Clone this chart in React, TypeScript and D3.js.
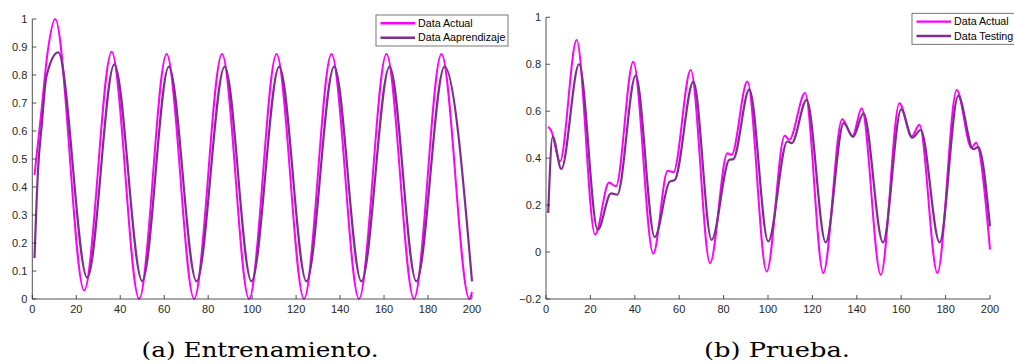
import React from "react";
import * as d3 from "d3";

// ---- Data ----
const trainActualX = [1, 4, 7.1, 10.4, 23.6, 36.1, 48.6, 61.1, 73.6, 86.3, 98.6, 111.1, 123.6, 136.1, 148.6, 161.1, 173.6, 186.1, 198.8, 200];
const trainActualY = [0.443, 0.66, 0.889, 1.0, 0.03, 0.883, 0.0, 0.875, 0.0, 0.875, 0.0, 0.875, 0.0, 0.875, 0.0, 0.875, 0.0, 0.875, 0.0, 0.025];

const trainModelX = [1, 2.6, 4.4, 6.4, 11.8, 25, 37.3, 50, 62.1, 74.7, 87.5, 99.7, 112.3, 124.7, 137.3, 149.7, 162.5, 174.7, 187.5, 200];
const trainModelY = [0.146, 0.46, 0.63, 0.794, 0.881, 0.076, 0.838, 0.064, 0.83, 0.063, 0.83, 0.063, 0.83, 0.063, 0.83, 0.063, 0.83, 0.063, 0.83, 0.063];

const testActualX = [1, 2.5, 6.3, 13.8, 22.1, 28.4, 31.5, 39.3, 48.3, 54.8, 57.4, 65.2, 73.9, 81.7, 83.6, 90.7, 99.4, 107.5, 109.6, 116.7, 124.9, 133.4, 138.1, 142.2, 150.8, 159.2, 164.7, 168.2, 176.3, 185, 191.7, 193.7, 200];
const testActualY = [0.534, 0.513, 0.386, 0.903, 0.074, 0.296, 0.28, 0.811, -0.007, 0.346, 0.34, 0.776, -0.047, 0.421, 0.414, 0.726, -0.083, 0.495, 0.478, 0.677, -0.089, 0.566, 0.495, 0.613, -0.097, 0.634, 0.492, 0.542, -0.089, 0.69, 0.443, 0.466, 0.01];

const testModelX = [1, 3, 6.9, 14.9, 23.3, 29.3, 32.1, 40.4, 49, 55.7, 58, 66.4, 74.6, 82.6, 84.4, 91.6, 100.1, 108.7, 110.7, 117.4, 126, 134.1, 138.3, 143, 151.8, 160, 165, 168.8, 177.3, 185.7, 192.5, 194.7, 200];
const testModelY = [0.166, 0.492, 0.354, 0.8, 0.095, 0.25, 0.244, 0.752, 0.064, 0.3, 0.307, 0.726, 0.052, 0.393, 0.396, 0.693, 0.045, 0.471, 0.464, 0.648, 0.041, 0.549, 0.49, 0.591, 0.041, 0.608, 0.487, 0.52, 0.041, 0.665, 0.438, 0.447, 0.109];

const xTicks = [0, 20, 40, 60, 80, 100, 120, 140, 160, 180, 200];
const leftYTicks = [0, 0.1, 0.2, 0.3, 0.4, 0.5, 0.6, 0.7, 0.8, 0.9, 1];
const rightYTicks = [-0.2, 0, 0.2, 0.4, 0.6, 0.8, 1];

const leftLegend = ["Data Actual", "Data Aaprendizaje"];
const rightLegend = ["Data Actual", "Data Testing"];
const captions = ["(a) Entrenamiento.", "(b) Prueba."];

const MAGENTA = "#ff00ff";
const PURPLE = "#7e2f8e";
const AXIS = "#262626";

type PanelProps = {
  x0: number; x1: number; yTop: number; yBot: number;
  yDomain: [number, number]; yTicks: number[];
  a: [number[], number[]]; m: [number[], number[]];
  fmt: (v: number) => string;
};

function Panel({ x0, x1, yTop, yBot, yDomain, yTicks, a, m, fmt }: PanelProps) {
  const xs = d3.scaleLinear().domain([0, 200]).range([x0, x1]);
  const ys = d3.scaleLinear().domain(yDomain).range([yBot, yTop]);
  const line = d3.line<[number, number]>()
    .x(d => xs(d[0]))
    .y(d => ys(d[1]))
    .curve(d3.curveMonotoneX);
  const pa = a[0].map((x, i) => [x, a[1][i]] as [number, number]);
  const pm = m[0].map((x, i) => [x, m[1][i]] as [number, number]);
  const tl = 4;
  return (
    <g>
      <path d={line(pa) || ""} fill="none" stroke={MAGENTA} strokeWidth={2} strokeLinejoin="round" />
      <path d={line(pm) || ""} fill="none" stroke={PURPLE} strokeWidth={2.2} strokeLinejoin="round" />
      <line x1={x0} x2={x0} y1={yTop} y2={yBot} stroke={AXIS} strokeWidth={0.8} />
      <line x1={x0} x2={x1} y1={yBot} y2={yBot} stroke={AXIS} strokeWidth={0.8} />
      {xTicks.map(t => (
        <g key={"x" + t}>
          <line x1={xs(t)} x2={xs(t)} y1={yBot} y2={yBot - tl} stroke={AXIS} strokeWidth={0.8} />
          <text x={xs(t)} y={yBot + 14} textAnchor="middle" fontSize={11} fill={AXIS}
            fontFamily="'Liberation Sans', Arial, sans-serif">{t}</text>
        </g>
      ))}
      {yTicks.map(t => (
        <g key={"y" + t}>
          <line x1={x0} x2={x0 + tl} y1={ys(t)} y2={ys(t)} stroke={AXIS} strokeWidth={0.8} />
          <text x={x0 - 5} y={ys(t) + 4} textAnchor="end" fontSize={11} fill={AXIS}
            fontFamily="'Liberation Sans', Arial, sans-serif">{fmt(t)}</text>
        </g>
      ))}
    </g>
  );
}

function Legend({ x, y, w, labels }: { x: number; y: number; w: number; labels: string[] }) {
  const colors = [MAGENTA, PURPLE];
  return (
    <g>
      <rect x={x} y={y} width={w} height={31} fill="#fff" stroke="#555" strokeWidth={0.8} />
      {labels.map((l, i) => (
        <g key={l}>
          <line x1={x + 4.5} x2={x + 39} y1={y + 8.3 + i * 14.4} y2={y + 8.3 + i * 14.4}
            stroke={colors[i]} strokeWidth={2.4} />
          <text x={x + 42} y={y + 12 + i * 14.4} fontSize={10.7} fill="#000"
            fontFamily="'Liberation Sans', Arial, sans-serif">{l}</text>
        </g>
      ))}
    </g>
  );
}

export default function App() {
  const fmtL = (v: number) => (v === 0 || v === 1 ? String(v) : d3.format(".1f")(v));
  const fmtR = (v: number) => (Math.abs(v) < 1e-9 ? "0" : v === 1 ? "1" : d3.format(".1f")(v));
  return (
    <svg width={1014} height={364} style={{ position: "absolute", left: 0, top: 0, background: "#fff" }}>
      <rect width={1014} height={364} fill="#fff" />
      <Panel x0={32.3} x1={472} yTop={19} yBot={299} yDomain={[0, 1]} yTicks={leftYTicks}
        a={[trainActualX, trainActualY]} m={[trainModelX, trainModelY]} fmt={fmtL} />
      <Panel x0={546} x1={990} yTop={17.3} yBot={299} yDomain={[-0.2, 1]} yTicks={rightYTicks}
        a={[testActualX, testActualY]} m={[testModelX, testModelY]} fmt={fmtR} />
      <Legend x={376} y={15} w={132} labels={leftLegend} />
      <Legend x={912} y={13.3} w={140} labels={rightLegend} />
      <text x={260} y={357} textAnchor="middle" fontSize={20.5} fontFamily="'DejaVu Serif', serif"
        textLength={237} lengthAdjust="spacingAndGlyphs" fill="#000">{captions[0]}</text>
      <text x={777} y={357} textAnchor="middle" fontSize={20.5} fontFamily="'DejaVu Serif', serif"
        textLength={146} lengthAdjust="spacingAndGlyphs" fill="#000">{captions[1]}</text>
    </svg>
  );
}
